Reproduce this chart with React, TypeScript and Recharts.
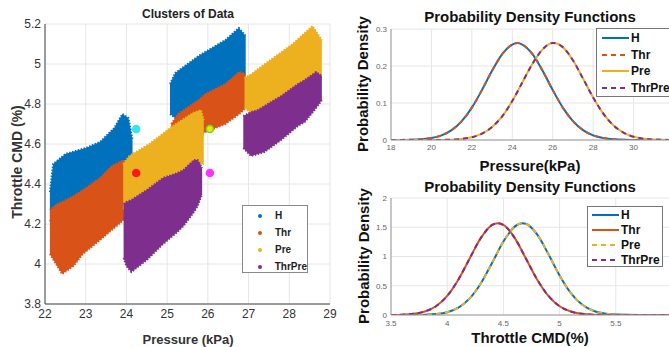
import React from "react"
import {
  Area,
  CartesianGrid,
  ComposedChart,
  Legend,
  Line,
  LineChart,
  Scatter,
  XAxis,
  YAxis,
} from "recharts"

const FONT = "'Liberation Sans', Arial, Helvetica, sans-serif"

const BLUE = "#0072BD"
const ORANGE = "#D95319"
const YELLOW = "#EDB120"
const PURPLE = "#7E2F8E"

const classNames = ["H", "Thr", "Pre", "ThrPre"]

// cluster outlines: [pressure, cmd low, cmd high]
const hLow = [
  [22.12, 4.22, 4.36],
  [22.2, 4.2, 4.5],
  [22.5, 4.25, 4.55],
  [23.0, 4.32, 4.58],
  [23.35, 4.38, 4.61],
  [23.7, 4.44, 4.68],
  [23.9, 4.48, 4.75],
  [24.05, 4.5, 4.73],
  [24.15, 4.55, 4.62],
]
const hHigh = [
  [25.07, 4.75, 4.9],
  [25.2, 4.73, 4.955],
  [25.77, 4.8, 5.04],
  [26.43, 4.88, 5.12],
  [26.76, 4.92, 5.18],
  [26.93, 4.95, 5.14],
]
const thrLow = [
  [22.12, 4.05, 4.27],
  [22.3, 3.99, 4.3],
  [22.42, 3.95, 4.31],
  [22.7, 3.99, 4.34],
  [22.93, 4.05, 4.37],
  [23.35, 4.12, 4.43],
  [23.64, 4.17, 4.49],
  [23.93, 4.22, 4.52],
  [24.0, 4.24, 4.5],
]
const thrHigh = [
  [25.1, 4.66, 4.7],
  [25.27, 4.64, 4.75],
  [25.77, 4.64, 4.82],
  [25.94, 4.66, 4.85],
  [26.43, 4.7, 4.9],
  [26.77, 4.75, 4.96],
  [26.93, 4.78, 4.95],
]
const preLow = [
  [23.92, 4.28, 4.5],
  [24.07, 4.26, 4.54],
  [24.56, 4.3, 4.6],
  [25.14, 4.4, 4.69],
  [25.63, 4.48, 4.755],
  [25.83, 4.5, 4.77],
  [25.9, 4.5, 4.72],
]
const preHigh = [
  [26.9, 4.78, 4.93],
  [27.07, 4.755, 4.95],
  [27.4, 4.77, 5.0],
  [28.08, 4.84, 5.1],
  [28.57, 4.9, 5.19],
  [28.8, 4.92, 5.12],
]
const thrPreLow = [
  [23.93, 4.03, 4.3],
  [24.0, 3.99, 4.31],
  [24.12, 3.96, 4.32],
  [24.5, 4.02, 4.37],
  [24.9, 4.1, 4.43],
  [25.25, 4.16, 4.455],
  [25.4, 4.19, 4.47],
  [25.66, 4.26, 4.52],
  [25.75, 4.29, 4.52],
  [25.86, 4.35, 4.48],
]
const thrPreHigh = [
  [26.87, 4.58, 4.74],
  [27.06, 4.54, 4.76],
  [27.23, 4.55, 4.77],
  [27.39, 4.56, 4.79],
  [27.8, 4.62, 4.84],
  [28.21, 4.69, 4.9],
  [28.38, 4.71, 4.92],
  [28.66, 4.78, 4.96],
  [28.8, 4.82, 4.94],
]

const centroidP = [24.24, 24.24, 26.05, 26.05]
const centroidCmd = [4.675, 4.455, 4.675, 4.455]

const pressureTicks = [22, 23, 24, 25, 26, 27, 28, 29]
const cmdTicks = [3.8, 4, 4.2, 4.4, 4.6, 4.8, 5, 5.2]

// pdf curves
const pdfPressXA = [18, 19, 20, 20.5, 21, 21.5, 22, 22.5, 23, 23.5, 24, 24.25, 24.5, 25, 25.5, 26, 26.5, 27, 27.5, 28, 28.5, 29, 30, 31, 32]
const pdfPressYA = [0.0001, 0.0007, 0.0053, 0.0125, 0.0266, 0.051, 0.0876, 0.135, 0.187, 0.232, 0.258, 0.262, 0.258, 0.232, 0.187, 0.135, 0.0876, 0.051, 0.0266, 0.0125, 0.0053, 0.002, 0.0002, 0, 0]
const pdfPressXB = [18, 19, 20, 21, 21.5, 22, 22.5, 23, 23.5, 24, 24.5, 25, 25.5, 26, 26.05, 26.5, 27, 27.5, 28, 28.5, 29, 29.5, 30, 31, 32]
const pdfPressYB = [0, 0, 0.0001, 0.001, 0.003, 0.0075, 0.017, 0.035, 0.064, 0.1055, 0.156, 0.206, 0.245, 0.262, 0.262, 0.251, 0.2155, 0.166, 0.115, 0.0715, 0.0398, 0.02, 0.0089, 0.0013, 0.0001]
const pressPdfTicks = [18, 20, 22, 24, 26, 28, 30, 32]
const densPressTicks = [0, 0.1, 0.2, 0.3]

const pdfCmdXA = [3.5, 3.7, 3.8, 3.9, 4.0, 4.1, 4.2, 4.3, 4.4, 4.5, 4.6, 4.67, 4.7, 4.8, 4.9, 5.0, 5.1, 5.2, 5.3, 5.4, 5.5, 5.7, 6.0]
const pdfCmdYA = [0, 0.001, 0.0044, 0.016, 0.048, 0.126, 0.283, 0.543, 0.892, 1.255, 1.511, 1.57, 1.559, 1.377, 1.042, 0.675, 0.374, 0.178, 0.072, 0.025, 0.0075, 0.0004, 0]
const pdfCmdXB = [3.5, 3.6, 3.7, 3.8, 3.9, 4.0, 4.1, 4.2, 4.3, 4.4, 4.45, 4.5, 4.6, 4.7, 4.8, 4.9, 5.0, 5.1, 5.2, 5.3, 5.5, 6.0]
const pdfCmdYB = [0.0014, 0.006, 0.02, 0.059, 0.15, 0.327, 0.608, 0.967, 1.319, 1.54, 1.57, 1.54, 1.319, 0.967, 0.608, 0.327, 0.15, 0.059, 0.02, 0.006, 0.0003, 0]
const cmdPdfTicks = [3.5, 4, 4.5, 5, 5.5, 6]
const densCmdTicks = [0, 0.5, 1, 1.5, 2]

const toRows = (xs: number[], ys: number[]) => xs.map((x, i) => ({ x, y: ys[i] }))

function ScatterLegend() {
  const colors = [BLUE, ORANGE, YELLOW, PURPLE]
  return (
    <div
      style={{
        width: 66,
        height: 68,
        boxSizing: "border-box",
        border: "1px solid #8a8a8a",
        background: "#fff",
        paddingTop: 1,
        fontFamily: FONT,
      }}
    >
      {classNames.map((n, i) => (
        <div key={n} style={{ display: "flex", alignItems: "center", height: 17, fontSize: 10, fontWeight: "bold", color: "#222" }}>
          <span style={{ width: 4, height: 4, borderRadius: 2, background: colors[i], marginLeft: 15, marginRight: 13 }} />
          {n}
        </div>
      ))}
    </div>
  )
}

interface CurveItem {
  name: string
  color: string
  dashed: boolean
}

function CurveLegend({ items, width, height, rowH, padLeft }: { items: CurveItem[]; width: number; height: number; rowH: number; padLeft: number }) {
  return (
    <div
      style={{
        width,
        height,
        boxSizing: "border-box",
        border: "1px solid #777",
        background: "#fff",
        paddingTop: 1,
        fontFamily: FONT,
      }}
    >
      {items.map((it) => (
        <div key={it.name} style={{ display: "flex", alignItems: "center", height: rowH, fontSize: 12, fontWeight: "bold", color: "#111" }}>
          <svg width={27} height={4} style={{ marginLeft: padLeft, marginRight: 2 }}>
            <line x1={0} y1={2} x2={27} y2={2} stroke={it.color} strokeWidth={2} strokeDasharray={it.dashed ? "5 4" : undefined} />
          </svg>
          {it.name}
        </div>
      ))}
    </div>
  )
}

function ClusterChart() {
  const clusters = [
    { rows: hLow, color: BLUE },
    { rows: hHigh, color: BLUE },
    { rows: thrLow, color: ORANGE },
    { rows: thrHigh, color: ORANGE },
    { rows: preLow, color: YELLOW },
    { rows: preHigh, color: YELLOW },
    { rows: thrPreLow, color: PURPLE },
    { rows: thrPreHigh, color: PURPLE },
  ]
  const centroidFill = ["#33e6f0", "#ff1a1a", "#f2e600", "#ff33ff"]
  const centroidStroke = ["#33e6f0", "#ff1a1a", "#66dd22", "#ff33ff"]

  return (
    <ComposedChart width={340} height={347} margin={{ top: 24, right: 10, bottom: 13, left: 0 }}>
      <CartesianGrid stroke="#e6e6e6" />
      <XAxis
        type="number"
        dataKey="p"
        domain={[22, 29]}
        ticks={pressureTicks}
        allowDataOverflow
        height={30}
        tickLine={false}
        tickSize={0}
        tickMargin={5}
        axisLine={{ stroke: "#444" }}
        tick={{ fontSize: 12, fill: "#333", fontFamily: FONT }}
      />
      <YAxis
        type="number"
        dataKey="cmd"
        domain={[3.8, 5.2]}
        ticks={cmdTicks}
        allowDataOverflow
        width={45}
        tickLine={false}
        tickSize={0}
        tickMargin={4}
        axisLine={{ stroke: "#444" }}
        tick={{ fontSize: 12, fill: "#333", fontFamily: FONT }}
      />
      {clusters.map((c, i) => (
        <Area
          key={`cl${i}`}
          data={c.rows.map(([p, lo, hi]) => ({ p, cmd: [lo, hi] }))}
          dataKey="cmd"
          type="linear"
          fill={c.color}
          fillOpacity={1}
          stroke={c.color}
          strokeWidth={2}
          strokeDasharray="1.5 1.5"
          dot={false}
          activeDot={false}
          isAnimationActive={false}
        />
      ))}
      {centroidP.map((p, i) => (
        <Scatter
          key={`ct${i}`}
          data={[{ p, cmd: centroidCmd[i] }]}
          dataKey="cmd"
          fill={centroidFill[i]}
          isAnimationActive={false}
          shape={(props: any) => (
            <circle cx={props.cx} cy={props.cy} r={3.5} fill={centroidFill[i]} stroke={centroidStroke[i]} strokeWidth={1.5} />
          )}
        />
      ))}
      <Legend
        layout="horizontal"
        verticalAlign="middle"
        align="center"
        wrapperStyle={{ left: 242, top: 205, width: 66, height: 68 }}
        content={() => <ScatterLegend />}
      />
      <text x={188} y={18} textAnchor="middle" fontFamily={FONT} fontSize={12} fontWeight="bold" fill="#222">
        Clusters of Data
      </text>
      <text x={188} y={344} textAnchor="middle" fontFamily={FONT} fontSize={13} fontWeight="bold" fill="#333">
        Pressure (kPa)
      </text>
      <text x={22} y={162} textAnchor="middle" fontFamily={FONT} fontSize={14} fontWeight="bold" fill="#333" transform="rotate(-90, 22, 162)">
        Throttle CMD (%)
      </text>
    </ComposedChart>
  )
}

function PressurePdf() {
  const items: CurveItem[] = [
    { name: "H", color: BLUE, dashed: false },
    { name: "Thr", color: ORANGE, dashed: true },
    { name: "Pre", color: YELLOW, dashed: false },
    { name: "ThrPre", color: PURPLE, dashed: true },
  ]
  const rowsA = toRows(pdfPressXA, pdfPressYA)
  const rowsB = toRows(pdfPressXB, pdfPressYB)
  const series = [rowsA, rowsA, rowsB, rowsB]
  return (
    <LineChart width={345} height={177} margin={{ top: 29, right: 11, bottom: 7, left: 0 }}>
      <CartesianGrid stroke="#e6e6e6" />
      <XAxis
        type="number"
        dataKey="x"
        domain={[18, 32]}
        ticks={pressPdfTicks}
        allowDataOverflow
        height={30}
        tickLine={false}
        tickSize={0}
        tickMargin={4}
        axisLine={{ stroke: "#999" }}
        tick={{ fontSize: 8, fill: "#666", fontFamily: FONT }}
      />
      <YAxis
        type="number"
        domain={[0, 0.3]}
        ticks={densPressTicks}
        allowDataOverflow
        width={51}
        tickLine={false}
        tickSize={0}
        tickMargin={4}
        axisLine={{ stroke: "#999" }}
        tick={{ fontSize: 8, fill: "#666", fontFamily: FONT }}
      />
      {items.map((it, i) => (
        <Line
          key={it.name}
          data={series[i]}
          dataKey="y"
          name={it.name}
          type="monotone"
          stroke={it.color}
          strokeWidth={2}
          strokeDasharray={it.dashed ? "5 4" : undefined}
          dot={false}
          activeDot={false}
          isAnimationActive={false}
        />
      ))}
      <Legend
        layout="horizontal"
        verticalAlign="middle"
        align="center"
        wrapperStyle={{ left: 256, top: 28, width: 100, height: 69 }}
        content={() => <CurveLegend items={items} width={100} height={69} rowH={16.5} padLeft={5} />}
      />
      <text x={190} y={22} textAnchor="middle" fontFamily={FONT} fontSize={15} fontWeight="bold" fill="#111">
        Probability Density Functions
      </text>
      <text x={190} y={171} textAnchor="middle" fontFamily={FONT} fontSize={15} fontWeight="bold" fill="#111">
        Pressure(kPa)
      </text>
      <text x={28} y={84} textAnchor="middle" fontFamily={FONT} fontSize={15} fontWeight="bold" fill="#111" transform="rotate(-90, 28, 84)">
        Probability Density
      </text>
    </LineChart>
  )
}

function ThrottlePdf() {
  const items: CurveItem[] = [
    { name: "H", color: BLUE, dashed: false },
    { name: "Thr", color: ORANGE, dashed: false },
    { name: "Pre", color: YELLOW, dashed: true },
    { name: "ThrPre", color: PURPLE, dashed: true },
  ]
  const rowsA = toRows(pdfCmdXA, pdfCmdYA)
  const rowsB = toRows(pdfCmdXB, pdfCmdYB)
  const series = [rowsA, rowsB, rowsA, rowsB]
  return (
    <LineChart width={345} height={177} margin={{ top: 28, right: 13, bottom: 0, left: 0 }}>
      <CartesianGrid stroke="#e6e6e6" />
      <XAxis
        type="number"
        dataKey="x"
        domain={[3.5, 6]}
        ticks={cmdPdfTicks}
        allowDataOverflow
        height={32}
        tickLine={false}
        tickSize={0}
        tickMargin={5}
        axisLine={{ stroke: "#999" }}
        tick={{ fontSize: 8, fill: "#666", fontFamily: FONT }}
      />
      <YAxis
        type="number"
        domain={[0, 2]}
        ticks={densCmdTicks}
        allowDataOverflow
        width={51}
        tickLine={false}
        tickSize={0}
        tickMargin={4}
        axisLine={{ stroke: "#999" }}
        tick={{ fontSize: 8, fill: "#666", fontFamily: FONT }}
      />
      {items.map((it, i) => (
        <Line
          key={it.name}
          data={series[i]}
          dataKey="y"
          name={it.name}
          type="monotone"
          stroke={it.color}
          strokeWidth={2}
          strokeDasharray={it.dashed ? "5 4" : undefined}
          dot={false}
          activeDot={false}
          isAnimationActive={false}
        />
      ))}
      <Legend
        layout="horizontal"
        verticalAlign="middle"
        align="center"
        wrapperStyle={{ left: 247, top: 36, width: 76, height: 61 }}
        content={() => <CurveLegend items={items} width={76} height={61} rowH={14.8} padLeft={4} />}
      />
      <text x={190} y={22} textAnchor="middle" fontFamily={FONT} fontSize={15} fontWeight="bold" fill="#111">
        Probability Density Functions
      </text>
      <text x={190} y={173} textAnchor="middle" fontFamily={FONT} fontSize={15} fontWeight="bold" fill="#111">
        Throttle CMD(%)
      </text>
      <text x={29} y={86} textAnchor="middle" fontFamily={FONT} fontSize={15} fontWeight="bold" fill="#111" transform="rotate(-90, 29, 86)">
        Probability Density
      </text>
    </LineChart>
  )
}

export default function App() {
  return (
    <div style={{ position: "relative", width: 669, height: 347, overflow: "hidden", background: "#fff", fontFamily: FONT }}>
      <style>{"body{margin:0}"}</style>
      <div style={{ position: "absolute", left: 0, top: 0 }}>
        <ClusterChart />
      </div>
      <div style={{ position: "absolute", left: 340, top: 0 }}>
        <PressurePdf />
      </div>
      <div style={{ position: "absolute", left: 340, top: 170 }}>
        <ThrottlePdf />
      </div>
    </div>
  )
}
